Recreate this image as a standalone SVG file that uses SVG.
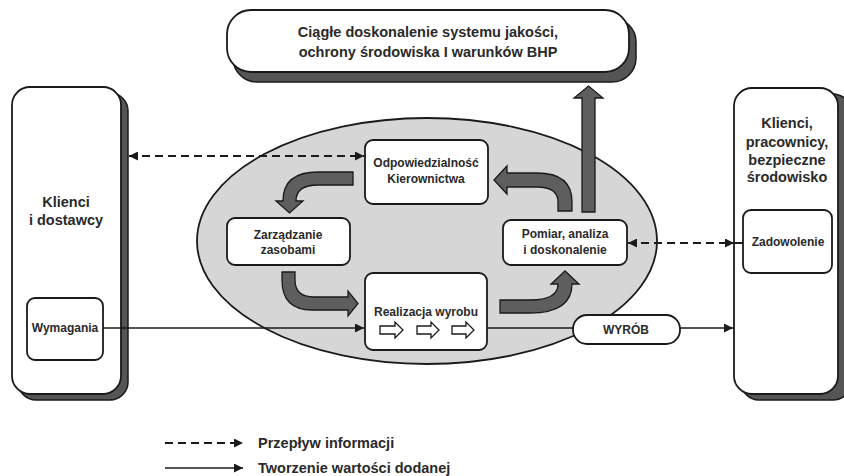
<svg xmlns="http://www.w3.org/2000/svg" width="844" height="476" viewBox="0 0 844 476">
<style>
text{font-family:"Liberation Sans",Arial,sans-serif;font-weight:bold;fill:#2a2a2a;text-anchor:middle}
.big{font-size:14.5px}
.sm{font-size:12px}
.box{fill:#fff;stroke:#1a1a1a;stroke-width:1.8}
.shadow{fill:#555;stroke:#1a1a1a;stroke-width:1.5}
.flow{fill:#5e5e5e;stroke:#1a1a1a;stroke-width:1.3}
.info{fill:none;stroke:#1a1a1a;stroke-width:2;stroke-dasharray:8 5}
.value{fill:none;stroke:#1a1a1a;stroke-width:1.5}
.hollow{fill:#fff;stroke:#1a1a1a;stroke-width:1.3}
</style>
<defs>
<marker id="ah" viewBox="0 0 10 10" refX="10" refY="5" markerWidth="11" markerHeight="9" markerUnits="userSpaceOnUse" orient="auto-start-reverse">
<path d="M0,0 L10,5 L0,10 z" fill="#1a1a1a"/>
</marker>
</defs>
<rect width="844" height="476" fill="#fff"/>

<g id="ellipse">
<ellipse cx="427" cy="241" rx="230" ry="123" fill="#d6d6d6" stroke="#1a1a1a" stroke-width="1.8"/>
</g>

<g id="top-goal">
<rect class="shadow" x="233" y="18" width="403" height="64" rx="24"/>
<rect class="box" x="227" y="10" width="402" height="62" rx="24"/>
<text class="big" x="428" y="37">Ciągłe doskonalenie systemu jakości,</text>
<text class="big" x="428" y="57">ochrony środowiska I warunków BHP</text>
</g>

<g id="klienci-dostawcy">
<rect class="shadow" x="18" y="93" width="110" height="307" rx="18"/>
<rect class="box" x="12" y="87" width="109" height="307" rx="18"/>
<text class="big" x="66" y="207">Klienci</text>
<text class="big" x="66" y="225">i dostawcy</text>
</g>

<g id="wymagania">
<rect class="box" x="27" y="298" width="76" height="62" rx="8"/>
<text class="sm" x="65" y="332">Wymagania</text>
</g>

<g id="klienci-pracownicy">
<rect class="shadow" x="741" y="94" width="110" height="306" rx="18"/>
<rect class="box" x="734" y="88" width="104" height="306" rx="18"/>
<text class="big" x="787" y="128">Klienci,</text>
<text class="big" x="787" y="147">pracownicy,</text>
<text class="big" x="787" y="165">bezpieczne</text>
<text class="big" x="787" y="182">środowisko</text>
</g>

<g id="zadowolenie">
<rect class="box" x="743" y="210" width="89" height="63" rx="8"/>
<text class="sm" x="788" y="246">Zadowolenie</text>
</g>

<g id="odpowiedzialnosc">
<rect class="box" x="365" y="140" width="123" height="64" rx="8"/>
<text class="sm" x="426" y="167">Odpowiedzialność</text>
<text class="sm" x="426" y="183">Kierownictwa</text>
</g>

<g id="zarzadzanie">
<rect class="box" x="227" y="218" width="123" height="47" rx="8"/>
<text class="sm" x="288" y="239">Zarządzanie</text>
<text class="sm" x="288" y="254">zasobami</text>
</g>

<g id="pomiar">
<rect class="box" x="503" y="220" width="124" height="45" rx="8"/>
<text class="sm" x="565" y="238">Pomiar, analiza</text>
<text class="sm" x="565" y="254">i doskonalenie</text>
</g>

<g id="realizacja">
<rect class="box" x="365" y="273" width="122" height="77" rx="8"/>
<text class="sm" x="426" y="316">Realizacja wyrobu</text>
<path class="hollow" d="M380,326 L395,326 L395,322 L403,330 L395,338 L395,334 L380,334 Z"/>
<path class="hollow" d="M417,326 L431,326 L431,322 L439,330 L431,338 L431,334 L417,334 Z"/>
<path class="hollow" d="M452,326 L466,326 L466,322 L474,330 L466,338 L466,334 L452,334 Z"/>
</g>

<g id="wyrob">
<rect class="box" x="573" y="315" width="107" height="29" rx="14"/>
<text class="sm" x="626" y="334">WYRÓB</text>
</g>

<g id="connectors">
<path class="flow" d="M353,172 L318,172 Q283,172 283,201 L276,201 L289.5,213 L303,201 L296,201 Q296,185 318,185 L353,185 Z"/>
<path class="flow" d="M282,272 L282,280 Q282,310 312,310 L348,310 L348,316 L358,303.5 L348,291 L348,297 L314,297 Q295,297 295,280 L295,272 Z"/>
<path class="flow" d="M500,300 L530,300 Q558,300 558,284 L551,284 L565,271 L579,284 L572,284 Q572,313 530,313 L500,313 Z"/>
<path class="flow" d="M572,211 L572,202 Q572,173 537,173 L507,173 L507,166 L494,180 L507,194 L507,187 L537,187 Q558,187 558,202 L558,211 Z"/>
<path class="flow" d="M582,212 L582,98 L574,98 L588.5,86 L603,98 L595,98 L595,212 Z"/>

<line class="info" x1="129" y1="156" x2="364" y2="156" marker-start="url(#ah)" marker-end="url(#ah)"/>
<line class="info" x1="628" y1="243" x2="734" y2="243" marker-start="url(#ah)" marker-end="url(#ah)"/>
<line x1="734" y1="243" x2="743" y2="243" stroke="#1a1a1a" stroke-width="2"/>

<line class="value" x1="103" y1="328" x2="364" y2="328" marker-end="url(#ah)"/>
<line class="value" x1="487" y1="328" x2="573" y2="328"/>
<line class="value" x1="680" y1="328" x2="733" y2="328" marker-end="url(#ah)"/>
</g>

<g id="legend">
<line class="info" x1="165" y1="443" x2="243" y2="443" marker-end="url(#ah)"/>
<line class="value" x1="165" y1="468" x2="243" y2="468" stroke-width="2" marker-end="url(#ah)"/>
<text class="big" x="258" y="448" text-anchor="start" style="text-anchor:start">Przepływ informacji</text>
<text class="big" x="258" y="473" style="text-anchor:start">Tworzenie wartości dodanej</text>
</g>
</svg>
